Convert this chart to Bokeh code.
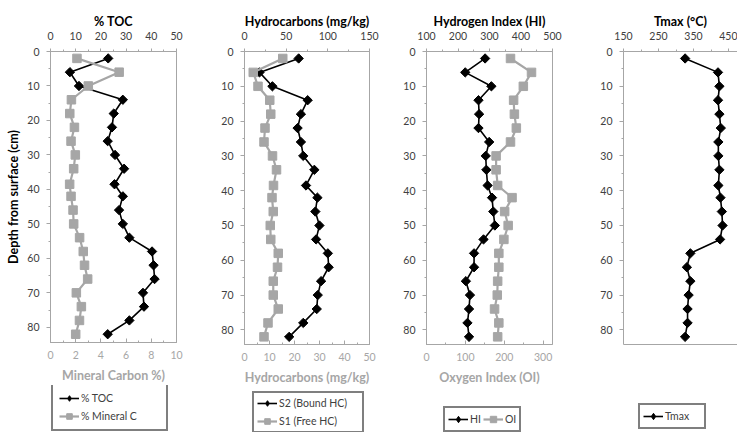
import math
from bokeh.plotting import figure
from bokeh.models import Range1d, LinearAxis, SingleIntervalTicker, FixedTicker, Legend, LegendItem
from bokeh.layouts import row, column
from bokeh.embed import file_html
from bokeh.resources import INLINE

# ---- data ----
depth = [2, 6, 10, 14, 18, 22, 26, 30, 34, 38.5, 42, 46, 50, 54, 58, 62, 66, 70, 74, 78, 82]
toc = [22.9, 7.7, 11.3, 28.7, 25.1, 24.4, 22.7, 25.6, 29.2, 25.4, 28.7, 27.2, 28.7, 31.3,
       40.3, 40.9, 41.3, 36.7, 37.1, 31.3, 22.7]
mineral_c = [2.1, 5.45, 3.0, 1.66, 1.53, 1.9, 1.63, 1.97, 1.84, 1.52, 1.63, 1.79, 1.84, 2.31,
             2.6, 2.7, 2.95, 2.05, 2.45, 2.3, 2.0]
s2 = [65, 18, 33.5, 75.8, 67.7, 63.7, 67.7, 70.5, 83.8, 73.8, 87.5, 85, 89.9, 85.9,
      100, 101, 91.9, 87.9, 86.7, 70.5, 53.6]
s1 = [15.3, 3.5, 5.4, 10.1, 10.5, 8.2, 7.8, 11.2, 12.8, 11.6, 11.0, 11.5, 10.3, 10.5,
      13.5, 13.2, 11.5, 11.5, 13.5, 9.4, 7.8]
hi = [286, 223, 306, 265, 267, 265, 299, 288, 290, 294, 308, 312, 317, 281,
      251, 251, 225, 238, 235, 230, 235]
oi = [216, 270, 249, 224, 226, 231, 216, 179, 179, 183, 220, 201, 210, 199,
      186, 186, 183, 182, 175, 186, 183]
tmax = [326, 420, 424, 420, 424, 428, 421, 421, 424, 421, 427, 431, 433, 426,
        341, 331, 341, 336, 333, 333, 326]

tmax_ticks = [150, 250, 350, 450]
tmax_minor = [200, 300, 400]

FONT = "Lato"
GRAY = "#A6A6A6"
DARK = "#404040"
MAIN_H = 385
LEG_H = 47
TOP = 51


def base_axis(ax, color):
    ax.axis_line_color = GRAY
    ax.major_tick_line_color = GRAY
    ax.minor_tick_line_color = GRAY
    ax.major_label_text_font = FONT
    ax.major_label_text_font_size = "10.5px"
    ax.major_label_text_color = color
    ax.axis_label_text_font = FONT
    ax.axis_label_text_font_style = "bold"
    ax.axis_label_text_font_size = "12.5px"


def panel(top_range, top_ticker, top_title, ymax, frame_w, frame_h, bl, br,
          bot_range=None, bot_ticker=None, bot_title=None, ylabel=None, outline=True):
    p = figure(frame_width=frame_w, frame_height=frame_h,
               x_range=Range1d(*top_range), y_range=Range1d(ymax, 0),
               x_axis_location="above", output_backend="svg", toolbar_location=None,
               min_border_left=bl, min_border_right=br, min_border_top=TOP,
               min_border_bottom=MAIN_H - TOP - frame_h)
    p.grid.visible = False
    p.background_fill_color = "white"
    p.border_fill_color = "white"
    p.outline_line_color = GRAY if outline else None

    ta = p.xaxis[0]
    ta.ticker = top_ticker
    ta.axis_label = top_title
    base_axis(ta, DARK)
    ta.axis_label_text_color = "black"
    ta.major_tick_out = 3
    ta.major_tick_in = 0
    ta.minor_tick_out = 2
    ta.minor_tick_in = 0
    ta.major_label_standoff = 9
    ta.axis_label_standoff = 0

    ya = p.yaxis[0]
    ya.ticker = SingleIntervalTicker(interval=10, num_minor_ticks=2)
    base_axis(ya, DARK)
    ya.major_tick_out = 4
    ya.major_tick_in = 0
    ya.minor_tick_out = 2
    ya.minor_tick_in = 0
    ya.major_label_standoff = 7
    if ylabel:
        ya.axis_label = ylabel
        ya.axis_label_text_color = "black"
        ya.axis_label_standoff = 3

    if bot_range is not None:
        p.extra_x_ranges = {"bot": Range1d(*bot_range)}
        ba = LinearAxis(x_range_name="bot", ticker=bot_ticker, axis_label=bot_title)
        base_axis(ba, GRAY)
        ba.axis_label_text_color = GRAY
        ba.major_tick_in = 4
        ba.major_tick_out = 0
        ba.minor_tick_in = 2
        ba.minor_tick_out = 0
        ba.major_label_standoff = 8
        ba.axis_label_standoff = 6
        p.add_layout(ba, "below")
    else:
        ba = LinearAxis(ticker=FixedTicker(ticks=[]))
        ba.axis_line_color = GRAY
        ba.major_label_text_font_size = "0px"
        ba.major_tick_out = 0
        ba.major_label_standoff = 0
        p.add_layout(ba, "below")
    return p


def black_series(p, xs, ys, legend_swatch=False, **kw):
    l = p.line(xs, ys, line_color="black", line_width=1.6, **kw)
    if legend_swatch:
        s = p.scatter(xs, ys, marker="diamond", size=10,
                      fill_color="black", line_color="black", **kw)
    else:
        s = p.scatter(xs, ys, marker="square", angle=math.pi / 4, size=6.6,
                      fill_color="black", line_color="black", **kw)
    return [l, s]


def gray_series(p, xs, ys, **kw):
    l = p.line(xs, ys, line_color=GRAY, line_width=2.2, **kw)
    s = p.scatter(xs, ys, marker="square", size=8.5, fill_color=GRAY,
                  line_color=GRAY, **kw)
    return [l, s]


def legend_fig(width, labels, kinds, loc, orientation="vertical", padding=3, spacing=3,
               label_width=20, label_height=14):
    f = figure(width=width, height=LEG_H, x_range=Range1d(0, 1), y_range=Range1d(0, 1),
               x_axis_location=None, y_axis_location=None, output_backend="svg",
               toolbar_location=None, min_border=0)
    f.grid.visible = False
    f.outline_line_color = None
    f.background_fill_color = "white"
    f.border_fill_color = "white"
    items = []
    for lab, kind in zip(labels, kinds):
        # swatch renderers kept outside the visible range; only their legend swatch shows
        if kind == "black":
            rs = black_series(f, [5, 6], [5, 6], legend_swatch=True)
        else:
            rs = gray_series(f, [5, 6], [5, 6])
        items.append(LegendItem(label=lab, renderers=rs))
    lg = Legend(items=items, location=loc, orientation=orientation)
    lg.border_line_color = "black"
    lg.border_line_width = 2
    lg.background_fill_color = "white"
    lg.background_fill_alpha = 1
    lg.label_text_font = FONT
    lg.label_text_font_size = "10.5px"
    lg.label_text_color = DARK
    lg.glyph_width = 20
    lg.glyph_height = label_height
    lg.label_height = label_height
    lg.label_standoff = 2
    lg.label_width = label_width
    lg.padding = padding
    lg.spacing = spacing
    lg.margin = 0
    f.add_layout(lg, "center")
    return f


# Panel 1: TOC
p1 = panel((0, 50), SingleIntervalTicker(interval=10, num_minor_ticks=2), "% TOC", 84.4, 126, 291, 50, 10,
           bot_range=(0, 10), bot_ticker=SingleIntervalTicker(interval=2, num_minor_ticks=2),
           bot_title="Mineral Carbon %)", ylabel="Depth from surface (cm)")
black_series(p1, toc, depth)
gray_series(p1, mineral_c, depth, x_range_name="bot")
l1 = legend_fig(186, ["% TOC", "% Mineral C"], ["black", "gray"], (1, 1),
                padding=6, spacing=4, label_width=79)

# Panel 2: Hydrocarbons
p2 = panel((0, 150), SingleIntervalTicker(interval=50, num_minor_ticks=2), "Hydrocarbons (mg/kg)", 84.2, 125, 293, 58, 10,
           bot_range=(0, 50), bot_ticker=SingleIntervalTicker(interval=10, num_minor_ticks=2),
           bot_title="Hydrocarbons (mg/kg)")
black_series(p2, s2, depth)
gray_series(p2, s1, depth, x_range_name="bot")
l2 = legend_fig(193, ["S2 (Bound HC)", "S1 (Free HC)"], ["black", "gray"], (8, 1),
                padding=3, spacing=4, label_width=80)

# Panel 3: HI / OI
p3 = panel((100, 500), SingleIntervalTicker(interval=100, num_minor_ticks=2), "Hydrogen Index (HI)", 84.2, 126, 293, 47, 10,
           bot_range=(0, 324), bot_ticker=SingleIntervalTicker(interval=100, num_minor_ticks=2),
           bot_title="Oxygen Index (OI)")
black_series(p3, hi, depth)
gray_series(p3, oi, depth, x_range_name="bot")
l3 = legend_fig(183, ["HI", "OI"], ["black", "gray"], (17, 2), orientation="horizontal",
                padding=3, spacing=2, label_width=10, label_height=16)

# Panel 4: Tmax
p4 = panel((150, 475.7), FixedTicker(ticks=tmax_ticks, minor_ticks=tmax_minor), "Tmax (°C)", 84.2, 114, 293, 61, 0,
           outline=False)
black_series(p4, tmax, depth)
l4 = legend_fig(175, ["Tmax"], ["black"], (15, 3), padding=3, spacing=2, label_width=36,
                label_height=16)

layout = row(column(p1, l1), column(p2, l2), column(p3, l3), column(p4, l4))
open("out.html", "w").write(file_html(layout, INLINE))
